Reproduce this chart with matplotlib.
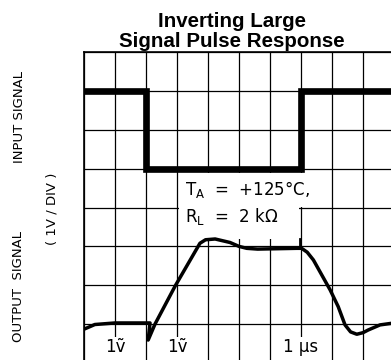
import matplotlib
matplotlib.use("Agg")
import matplotlib.pyplot as plt
from matplotlib.patches import Rectangle

# scope screen: 10 x 8 divisions, 1 V/div, 1 us/div
input_t = [0, 2, 2, 7, 7, 10]
input_v = [7, 7, 5, 5, 7, 7]

output_t = [0.0, 0.35, 1.0, 2.13, 2.07, 2.29, 2.94, 3.74, 3.92, 4.23, 4.71,
            5.0, 5.25, 5.6, 6.86, 7.02, 7.2, 7.4, 7.94, 8.2, 8.42, 8.6,
            8.8, 9.0, 9.17, 9.55, 10.0]
output_v = [0.87, 0.99, 1.03, 1.03, 0.59, 1.0, 1.98, 3.08, 3.17, 3.19, 3.1,
            3.0, 2.95, 2.93, 2.95, 2.95, 2.85, 2.65, 1.88, 1.45, 0.98, 0.8,
            0.74, 0.78, 0.85, 0.98, 1.03]

# small trigger mark where the output settles
marker_t = [6.97, 6.97]
marker_v = [2.95, 3.18]

scale_labels = ["1ṽ", "1ṽ", "1 μs"]
scale_pos = [1, 3, 7]
scale_halfwidth = [0.33, 0.33, 0.6]

fig = plt.figure(figsize=(3.91, 3.60), dpi=100)
ax = fig.add_axes([84 / 391, -3 / 360, 310 / 391, 311 / 360])
ax.set_xlim(0, 10)
ax.set_ylim(0, 8)
ax.set_xticks(range(11))
ax.set_yticks(range(9))
ax.tick_params(length=0, labelbottom=False, labelleft=False)
ax.grid(True, color="black", lw=0.9, zorder=1)
ax.set_axisbelow(True)
for side in ["left", "top"]:
    ax.spines[side].set_linewidth(1.2)

# blank areas behind the condition text
ax.add_patch(Rectangle((3.05, 4.01), 4.03, 0.89, fc="white", ec="none", zorder=2))
ax.add_patch(Rectangle((3.05, 3.20), 3.87, 0.82, fc="white", ec="none", zorder=2))

ax.plot(input_t, input_v, color="black", lw=4.8, solid_joinstyle="miter",
        solid_capstyle="butt", zorder=4)
ax.plot(output_t, output_v, color="black", lw=2.5, solid_joinstyle="round",
        zorder=4)
ax.plot(marker_t, marker_v, color="black", lw=2.0, zorder=4)

ax.text(3.26, 4.32, r"T$_\mathregular{A}$  =  +125°C,", fontsize=12,
        va="baseline", ha="left", zorder=5)
ax.text(3.26, 3.63, r"R$_\mathregular{L}$  =  2 kΩ", fontsize=12,
        va="baseline", ha="left", zorder=5)

# scale labels along the bottom, each on a blank patch
for lab, pos, hw in zip(scale_labels, scale_pos, scale_halfwidth):
    ax.add_patch(Rectangle((pos - hw, -0.2), 2 * hw, 0.87, fc="white",
                           ec="none", zorder=2))
    ax.text(pos, 0.28, lab, fontsize=12, ha="center", va="baseline", zorder=5)

fig.text(231.6 / 391, 1 - 27.3 / 360, "Inverting Large", ha="center",
         va="baseline", fontsize=14.8, fontweight="bold",
         family="Liberation Sans")
fig.text(231.6 / 391, 1 - 47 / 360, "Signal Pulse Response", ha="center",
         va="baseline", fontsize=14.8, fontweight="bold",
         family="Liberation Sans")

fig.text(20 / 391, 1 - 117 / 360, "INPUT SIGNAL", rotation=90, ha="center",
         va="center", fontsize=9.5)
fig.text(52 / 391, 1 - 209 / 360, "( 1V / DIV )", rotation=90, ha="center",
         va="center", fontsize=9.5)
fig.text(19 / 391, 1 - 286 / 360, "OUTPUT  SIGNAL", rotation=90, ha="center",
         va="center", fontsize=9.5)

fig.savefig("out.png", dpi=100)
